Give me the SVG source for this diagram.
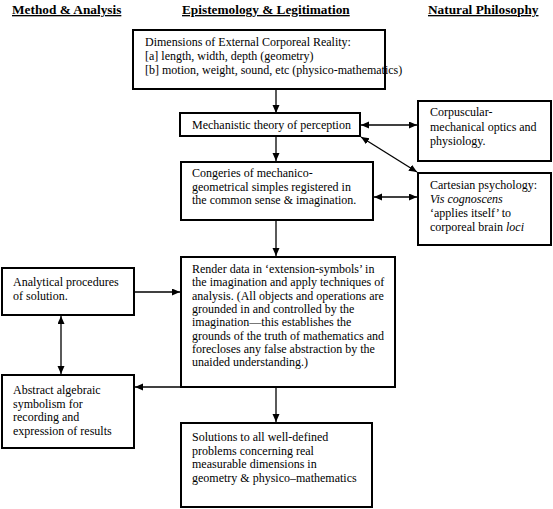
<svg xmlns="http://www.w3.org/2000/svg" width="553" height="509" viewBox="0 0 553 509">
<style>
.box{fill:#fff;stroke:#000;stroke-width:2}
.t{font-family:"Liberation Serif","Times New Roman",serif;font-size:12px;fill:#000}
.h{font-family:"Liberation Serif","Times New Roman",serif;font-size:13.3px;font-weight:bold;fill:#000;text-decoration:underline}
.c{fill:none;stroke:#000;stroke-width:1.3}
</style>
<defs>
<marker id="ah" markerUnits="userSpaceOnUse" markerWidth="9" markerHeight="8" refX="8" refY="3.5" orient="auto-start-reverse">
<path d="M0,0 L8,3.5 L0,7 z" fill="#000"/>
</marker>
</defs>
<rect width="553" height="509" fill="#fff"/>
<g id="headers">
<text class="h" x="12" y="14">Method &amp; Analysis</text>
<text class="h" x="182" y="14">Epistemology &amp; Legitimation</text>
<text class="h" x="428" y="14">Natural Philosophy</text>
</g>
<g id="connectors">
<line class="c" x1="276" y1="89" x2="276" y2="113" marker-end="url(#ah)"/>
<line class="c" x1="276" y1="136" x2="276" y2="161" marker-end="url(#ah)"/>
<line class="c" x1="276" y1="220" x2="276" y2="256" marker-end="url(#ah)"/>
<line class="c" x1="276" y1="387" x2="276" y2="422" marker-end="url(#ah)"/>
<line class="c" x1="361" y1="125" x2="417" y2="125" marker-start="url(#ah)" marker-end="url(#ah)"/>
<line class="c" x1="361" y1="137" x2="417" y2="172" marker-start="url(#ah)" marker-end="url(#ah)"/>
<line class="c" x1="374" y1="197" x2="417" y2="197" marker-start="url(#ah)" marker-end="url(#ah)"/>
<line class="c" x1="135" y1="292" x2="180" y2="292" marker-end="url(#ah)"/>
<line class="c" x1="61" y1="316" x2="61" y2="374" marker-start="url(#ah)" marker-end="url(#ah)"/>
<line class="c" x1="276" y1="387" x2="135" y2="387" marker-end="url(#ah)"/>
</g>
<g id="dimensions">
<rect class="box" x="133" y="30" width="252" height="59"/>
<text class="t" x="145" y="46">Dimensions of External Corporeal Reality:</text>
<text class="t" x="145" y="60">[a] length, width, depth (geometry)</text>
<text class="t" x="145" y="74">[b] motion, weight, sound, etc (physico-mathematics)</text>
</g>
<g id="perception">
<rect class="box" x="180" y="113" width="180" height="23"/>
<text class="t" x="192" y="129">Mechanistic theory of perception</text>
</g>
<g id="congeries">
<rect class="box" x="181" y="162" width="192" height="58"/>
<text class="t" x="192" y="177">Congeries of mechanico-</text>
<text class="t" x="192" y="190.5">geometrical simples registered in</text>
<text class="t" x="192" y="204">the common sense &amp; imagination.</text>
</g>
<g id="optics">
<rect class="box" x="418" y="101" width="133" height="60"/>
<text class="t" x="430" y="116">Corpuscular-</text>
<text class="t" x="430" y="130.5">mechanical optics and</text>
<text class="t" x="430" y="145">physiology.</text>
</g>
<g id="psychology">
<rect class="box" x="418" y="173" width="133" height="72"/>
<text class="t" x="430" y="189">Cartesian psychology:</text>
<text class="t" x="430" y="203" font-style="italic">Vis cognoscens</text>
<text class="t" x="430" y="217">‘applies itself’ to</text>
<text class="t" x="430" y="231">corporeal brain <tspan font-style="italic">loci</tspan></text>
</g>
<g id="render">
<rect class="box" x="181" y="257" width="214" height="130"/>
<text class="t" x="192" y="273">Render data in ‘extension-symbols’ in</text>
<text class="t" x="192" y="286.3">the imagination and apply techniques of</text>
<text class="t" x="192" y="299.6">analysis. (All objects and operations are</text>
<text class="t" x="192" y="312.9">grounded in and controlled by the</text>
<text class="t" x="192" y="326.2">imagination—this establishes the</text>
<text class="t" x="192" y="339.5">grounds of the truth of mathematics and</text>
<text class="t" x="192" y="352.8">forecloses any false abstraction by the</text>
<text class="t" x="192" y="366.1">unaided understanding.)</text>
</g>
<g id="solutions">
<rect class="box" x="181" y="423" width="191" height="84"/>
<text class="t" x="192" y="441">Solutions to all well-defined</text>
<text class="t" x="192" y="454.5">problems concerning real</text>
<text class="t" x="192" y="468">measurable dimensions in</text>
<text class="t" x="192" y="481.5">geometry &amp; physico–mathematics</text>
</g>
<g id="analytical">
<rect class="box" x="2" y="268" width="132" height="47"/>
<text class="t" x="13" y="286">Analytical procedures</text>
<text class="t" x="13" y="299.5">of solution.</text>
</g>
<g id="algebraic">
<rect class="box" x="2" y="375" width="132" height="73"/>
<text class="t" x="13" y="394">Abstract algebraic</text>
<text class="t" x="13" y="407.5">symbolism for</text>
<text class="t" x="13" y="421">recording and</text>
<text class="t" x="13" y="434.5">expression of results</text>
</g>
</svg>
